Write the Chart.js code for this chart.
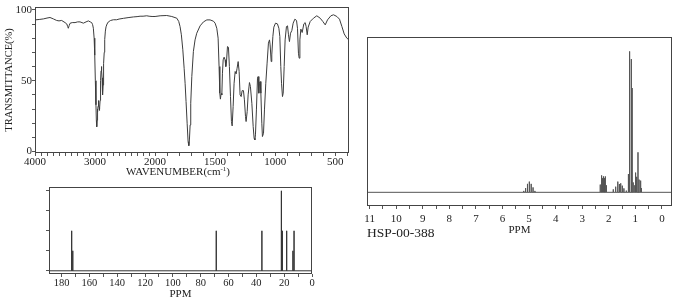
<!DOCTYPE html>
<html>
<head>
<meta charset="utf-8">
<script src="https://cdn.jsdelivr.net/npm/chart.js@4.4.1/dist/chart.umd.min.js"></script>
<style>
  body { margin: 0; background: #fff; }
  #page { position: relative; width: 680px; height: 303px; background: #fff; overflow: hidden; }
  canvas, .txt { position: absolute; }
  .txt { font-family: "Liberation Serif", "Times New Roman", serif; color: #222; white-space: nowrap; }
  .txt sup { font-size: 7px; line-height: 0; vertical-align: 4px; }
</style>
</head>
<body>
<div id="page">
  <canvas id="irChart" width="360" height="180" style="left:0;top:0"></canvas>
  <canvas id="c13Chart" width="360" height="123" style="left:0;top:180px"></canvas>
  <canvas id="h1Chart" width="320" height="209" style="left:360px;top:30px"></canvas>
  <div class="txt" style="left:78px;top:165px;width:200px;text-align:center;font-size:11px;line-height:13px">WAVENUMBER(cm<sup>-1</sup>)</div>
  <div class="txt" style="left:367px;top:225px;font-size:13.5px;line-height:16px">HSP-00-388</div>
</div>
<script>
// IR spectrum (wavenumber, cm-1 / transmittance, %)
const irWavenumber = [
    4000, 3930, 3861, 3800, 3750, 3694, 3639, 3600, 3556, 3500, 3470, 3456, 3445, 3430, 3417, 3380, 3333, 3290, 3250, 3194,
    3150, 3111, 3080, 3056, 3040, 3028, 3015, 3005, 2995, 2985, 2978, 2972, 2966, 2960, 2956, 2950, 2944, 2938, 2933, 2928,
    2922, 2916, 2911, 2905, 2900, 2894, 2888, 2883, 2877, 2872, 2866, 2860, 2855, 2847, 2839, 2828, 2817, 2800, 2778, 2740,
    2694, 2640, 2600, 2528, 2450, 2361, 2300, 2250, 2200, 2139, 2100, 2050, 2000, 1958, 1903, 1861, 1819, 1803, 1792, 1781,
    1769, 1758, 1750, 1742, 1733, 1725, 1719, 1714, 1708, 1703, 1694, 1681, 1667, 1653, 1625, 1597, 1569, 1542, 1514, 1500,
    1486, 1475, 1467, 1461, 1456, 1450, 1444, 1439, 1433, 1425, 1417, 1411, 1406, 1397, 1389, 1381, 1372, 1364, 1358, 1350,
    1342, 1333, 1325, 1317, 1308, 1300, 1292, 1283, 1275, 1264, 1256, 1247, 1242, 1233, 1225, 1214, 1206, 1194, 1183, 1175,
    1169, 1164, 1156, 1147, 1142, 1136, 1131, 1125, 1119, 1111, 1106, 1097, 1089, 1078, 1067, 1056, 1047, 1042, 1033, 1028,
    1019, 1011, 997, 981, 969, 961, 953, 947, 939, 933, 925, 917, 906, 897, 889, 881, 872, 861, 850, 836,
    822, 814, 806, 800, 794, 786, 775, 761, 750, 742, 733, 725, 708, 681, 653, 625, 603, 583, 564, 536,
    514, 486, 464, 444, 425, 403, 385
];
const irTransmittance = [
    92.9, 93.2, 93.6, 94.2, 94.6, 93.6, 92.5, 92.2, 92.5, 91.0, 90.0, 88.2, 87.0, 89.0, 90.5, 91.0, 91.0, 91.5, 91.5, 90.6,
    91.5, 92.2, 91.5, 91.0, 89.5, 87.0, 80.0, 68.0, 50.0, 33.0, 22.0, 17.5, 22.0, 30.0, 28.0, 32.0, 36.0, 33.0, 31.0, 29.0,
    30.0, 36.0, 40.0, 50.0, 57.0, 60.0, 57.0, 52.0, 45.0, 40.0, 47.0, 56.0, 62.0, 70.0, 79.0, 85.0, 88.0, 90.0, 91.5, 92.5,
    93.0, 93.0, 93.5, 94.0, 94.5, 95.0, 95.2, 95.5, 95.5, 95.8, 95.5, 95.3, 95.3, 95.8, 96.0, 95.3, 94.1, 91.8, 88.2, 82.4,
    71.8, 58.8, 48.2, 35.3, 20.0, 7.0, 4.2, 8.2, 18.8, 34.1, 53.0, 70.6, 78.8, 83.5, 88.7, 91.5, 92.9, 92.9, 92.0, 90.6,
    87.0, 80.0, 60.0, 41.2, 37.0, 41.0, 40.0, 55.3, 64.7, 66.6, 64.7, 60.0, 62.4, 74.1, 73.6, 60.0, 38.8, 21.2, 18.1, 31.8,
    48.2, 56.5, 54.8, 58.8, 63.5, 56.5, 40.0, 38.8, 43.0, 43.0, 36.5, 24.7, 21.2, 28.2, 40.0, 48.7, 45.9, 34.1, 17.6, 9.4,
    8.2, 11.8, 29.4, 51.8, 52.9, 41.2, 48.2, 49.4, 41.2, 20.0, 10.6, 12.9, 29.4, 48.2, 62.4, 76.5, 78.8, 75.3, 63.5, 68.2,
    81.2, 87.8, 90.6, 90.1, 87.0, 81.2, 60.0, 48.2, 38.8, 41.2, 60.0, 78.8, 88.2, 88.7, 82.4, 77.6, 83.5, 85.4, 90.6, 93.4,
    92.5, 87.0, 69.4, 65.9, 78.8, 86.4, 84.0, 90.1, 91.0, 88.2, 82.4, 87.8, 91.8, 94.1, 95.8, 94.1, 91.8, 89.4, 92.9, 95.8,
    96.5, 95.3, 93.4, 88.2, 83.0, 80.0, 78.8
];
const irLabelTicks = [4000, 3000, 2000, 1500, 1000, 500];
const irYLabelTicks = [0, 50, 100];

// 13C NMR lines (ppm / relative intensity)
const c13Ppm = [172.7, 171.9, 68.8, 36.0, 22.0, 21.3, 18.2, 13.7, 12.9];
const c13Intensity = [500, 250, 500, 500, 1000, 500, 500, 250, 500];
const c13LabelTicks = [180, 160, 140, 120, 100, 80, 60, 40, 20, 0];
const c13YTicks = [0, 250, 500, 750, 1000];

// 1H NMR lines (ppm / % of tallest line)
const h1Ppm = [
    5.20, 5.13, 5.06, 4.99, 4.92, 4.85, 4.78,
    2.32, 2.27, 2.24, 2.20, 2.16, 2.13, 2.09,
    1.83, 1.74, 1.66, 1.60, 1.55, 1.49, 1.43, 1.34,
    1.26, 1.215, 1.15, 1.12, 1.08,
    1.02, 0.99, 0.95, 0.90, 0.86, 0.80, 0.77
];
const h1Intensity = [
    1.0, 3.0, 6.0, 7.6, 6.0, 3.5, 1.0,
    5.5, 12.0, 10.0, 11.3, 10.0, 11.3, 5.0,
    2.1, 4.0, 7.6, 5.9, 6.4, 4.7, 2.8, 1.2,
    13.0, 100, 94.5, 74.0, 7.0,
    5.0, 14.0, 11.0, 28.4, 9.0, 8.3, 3.0
];
const h1LabelTicks = [11, 10, 9, 8, 7, 6, 5, 4, 3, 2, 1, 0];

Chart.defaults.font.family = '"Liberation Serif", "Times New Roman", serif';
Chart.defaults.color = '#222';
Chart.defaults.animation = false;

// draws the closed box round the plot area
const framePlugin = {
    id: 'frame',
    afterDraw(chart) {
        const a = chart.chartArea;
        const ctx = chart.ctx;
        ctx.save();
        ctx.strokeStyle = '#444';
        ctx.lineWidth = 1;
        ctx.strokeRect(Math.round(a.left) + 0.5, Math.round(a.top) + 0.5,
            Math.round(a.right - a.left) - 1, Math.round(a.bottom - a.top) - 1);
        ctx.restore();
    }
};

// turns lines (position, height) into a stick trace on a zero baseline
function stickTrace(pos, height, from, to) {
    const pts = [{ x: from, y: 0 }];
    pos.forEach((p, i) => {
        pts.push({ x: p, y: 0 }, { x: p, y: height[i] }, { x: p, y: 0 });
    });
    pts.push({ x: to, y: 0 });
    return pts;
}

function range(start, end, step) {
    const out = [];
    for (let v = start; step > 0 ? v <= end + 1e-9 : v >= end - 1e-9; v += step) out.push(Math.round(v * 100) / 100);
    return out;
}

const tickGrid = { drawOnChartArea: false, drawTicks: true, tickLength: 3, color: '#555' };
const baseOptions = {
    responsive: false,
    events: [],
    plugins: { legend: { display: false }, tooltip: { enabled: false } },
    elements: { point: { radius: 0 }, line: { tension: 0 } }
};

// IR: x axis is compressed 2x above 2000 cm-1
function irToU(wn) { return wn >= 2000 ? (4000 - wn) / 2 : 1000 + (2000 - wn); }
function irFromU(u) { return u <= 1000 ? 4000 - 2 * u : 2000 - (u - 1000); }

new Chart(document.getElementById('irChart'), {
    type: 'line',
    data: {
        datasets: [{
            data: irWavenumber.map((wn, i) => ({ x: irToU(wn), y: irTransmittance[i] })),
            borderColor: '#3c3c3c',
            borderWidth: 1
        }]
    },
    options: {
        ...baseOptions,
        layout: { padding: { top: 7, right: 11, left: 0, bottom: 0 } },
        scales: {
            x: {
                type: 'linear', min: 0, max: irToU(385),
                afterBuildTicks: s => { s.ticks = range(4000, 400, -100).map(wn => ({ value: irToU(wn) })); },
                afterFit: s => { s.height = 27; },
                border: { display: false },
                grid: tickGrid,
                ticks: {
                    autoSkip: false, maxRotation: 0, padding: 0, font: { size: 11 },
                    callback: v => { const wn = Math.round(irFromU(v)); return irLabelTicks.includes(wn) ? String(wn) : ''; }
                }
            },
            y: {
                min: -1, max: 102,
                afterBuildTicks: s => { s.ticks = range(0, 100, 10).map(v => ({ value: v })); },
                afterFit: s => { s.width = 35; },
                border: { display: false },
                grid: tickGrid,
                ticks: { autoSkip: false, padding: 0, font: { size: 11 },
                    callback: v => irYLabelTicks.includes(v) ? String(v) : '' },
                title: { display: true, text: 'TRANSMITTANCE(%)', font: { size: 10.5 }, padding: { top: 3, bottom: 0 } }
            }
        }
    },
    plugins: [framePlugin]
});

// 13C NMR
new Chart(document.getElementById('c13Chart'), {
    type: 'line',
    data: {
        datasets: [{
            data: stickTrace(c13Ppm, c13Intensity, 189, 0),
            borderColor: '#333',
            borderWidth: 1
        }]
    },
    options: {
        ...baseOptions,
        layout: { padding: { top: 4, right: 48, left: 0, bottom: 0 } },
        scales: {
            x: {
                type: 'linear', min: 0, max: 189, reverse: true,
                afterBuildTicks: s => { s.ticks = range(0, 180, 10).map(v => ({ value: v })); },
                afterFit: s => { s.height = 29; },
                border: { display: false },
                grid: tickGrid,
                ticks: { autoSkip: false, maxRotation: 0, padding: 0, font: { size: 10.5 },
                    callback: v => c13LabelTicks.includes(v) ? String(v) : '' },
                title: { display: true, text: 'PPM', font: { size: 11 }, padding: { top: 0, bottom: 2.5 } }
            },
            y: {
                min: -40, max: 1045,
                afterBuildTicks: s => { s.ticks = c13YTicks.map(v => ({ value: v })); },
                afterFit: s => { s.width = 49; },
                border: { display: false },
                grid: tickGrid,
                ticks: { autoSkip: false, padding: 0, callback: () => '' }
            }
        }
    },
    plugins: [framePlugin]
});

// 1H NMR
new Chart(document.getElementById('h1Chart'), {
    type: 'line',
    data: {
        datasets: [{
            data: stickTrace(h1Ppm, h1Intensity, 11.1, -0.38),
            borderColor: '#555',
            borderWidth: 1
        }]
    },
    options: {
        ...baseOptions,
        layout: { padding: { top: 7, right: 8, left: 7, bottom: 0 } },
        scales: {
            x: {
                type: 'linear', min: -0.38, max: 11.1, reverse: true,
                afterBuildTicks: s => { s.ticks = range(0, 11, 0.5).map(v => ({ value: v })); },
                afterFit: s => { s.height = 33; },
                border: { display: false },
                grid: tickGrid,
                ticks: { autoSkip: false, maxRotation: 0, padding: 4, font: { size: 11 },
                    callback: v => h1LabelTicks.includes(v) ? String(v) : '' },
                title: { display: true, text: 'PPM', font: { size: 11 }, padding: { top: 0, bottom: 2.5 } }
            },
            y: { display: false, min: -9.7, max: 110.2 }
        }
    },
    plugins: [framePlugin]
});
</script>
</body>
</html>
